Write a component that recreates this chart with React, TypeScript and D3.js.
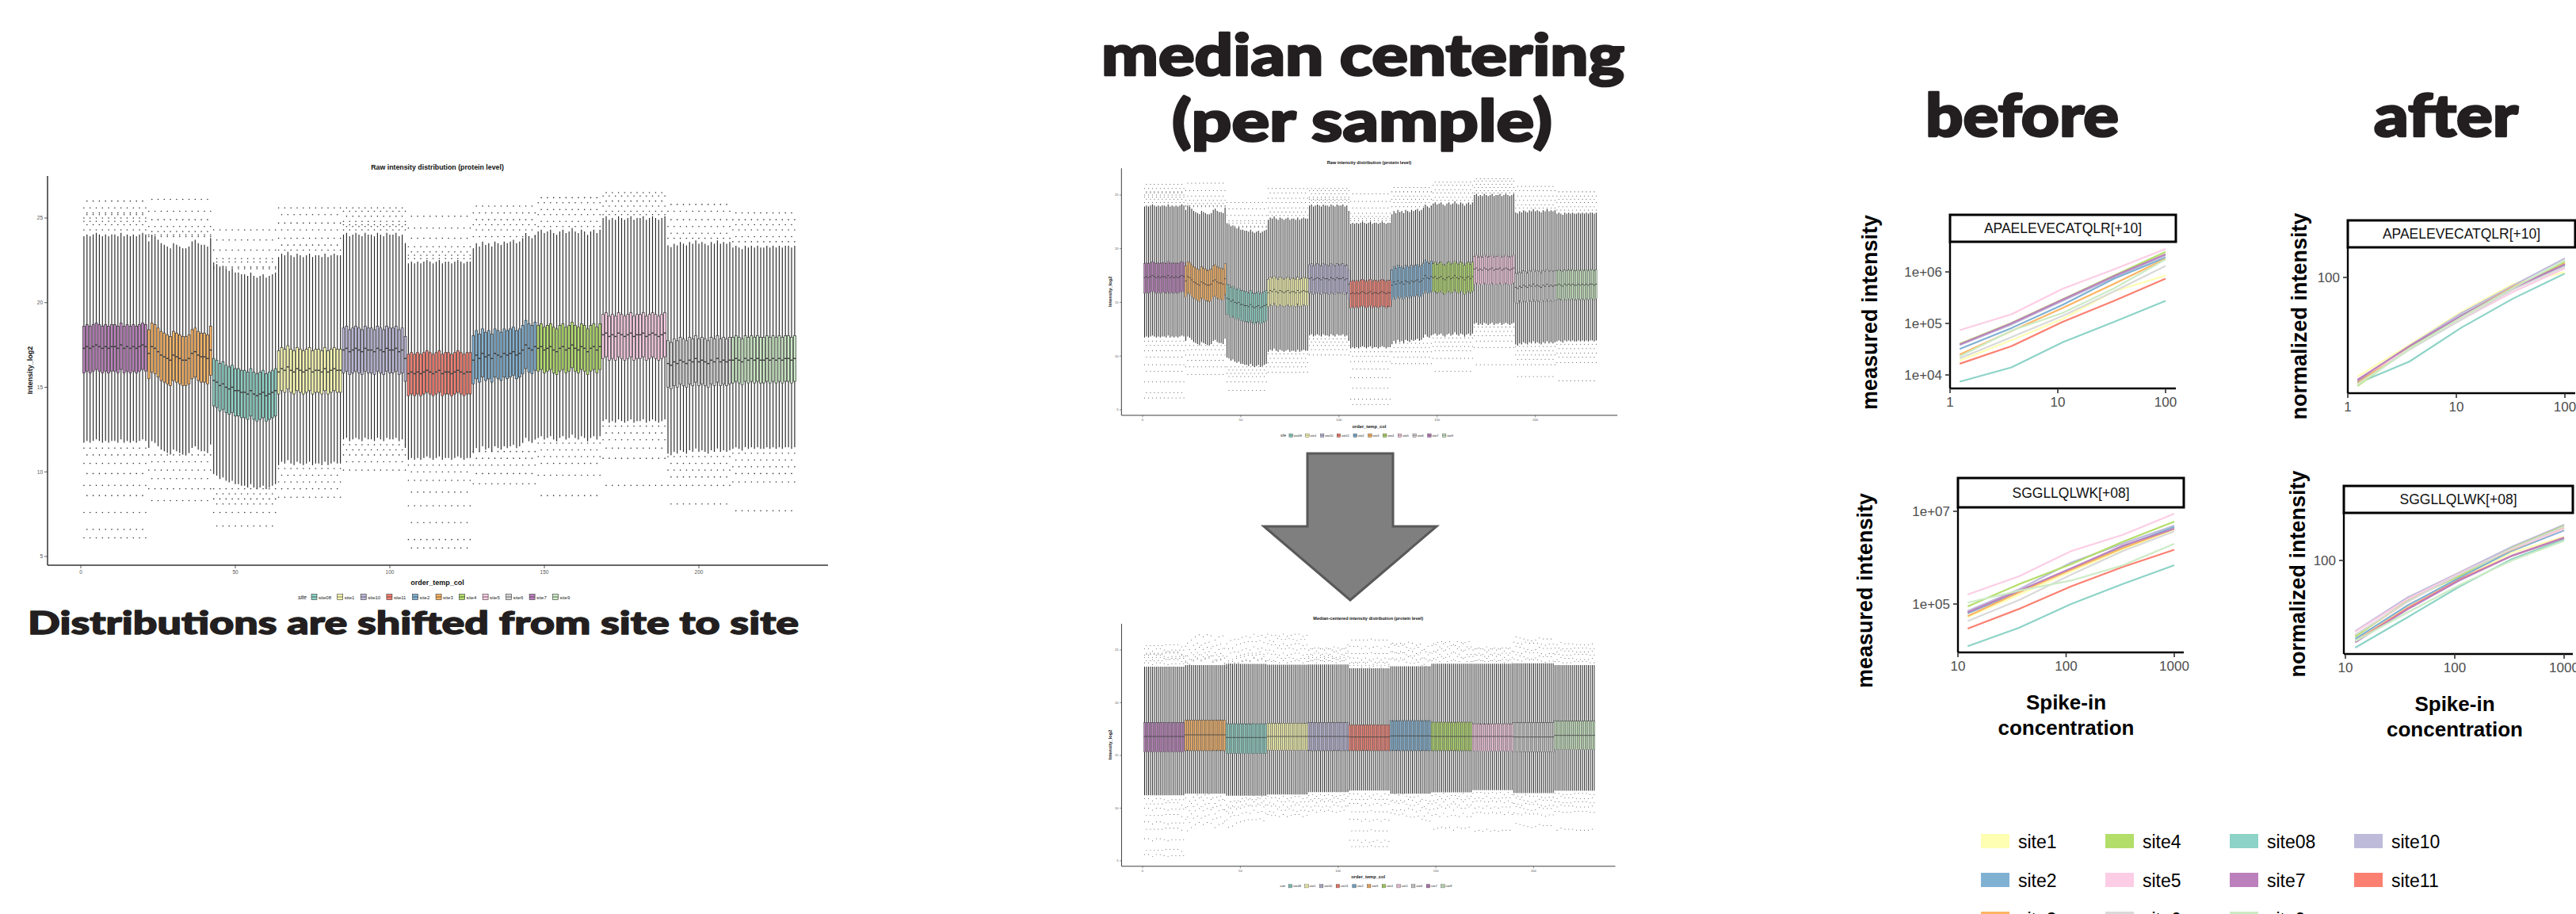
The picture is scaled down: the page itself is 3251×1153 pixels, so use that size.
import React, { useEffect } from "react";
import * as d3 from "d3";

const W = 3251;
const H = 1153;

// sites in the order they appear along order_temp_col
const BOX_SITES = ["site7", "site3", "site08", "site1", "site10", "site11", "site2", "site4", "site5", "site6", "site9"];
// ggplot legend order (alphabetical)
const LEGEND_SITES = ["site08", "site1", "site10", "site11", "site2", "site3", "site4", "site5", "site6", "site7", "site9"];
const siteColor = d3.scaleOrdinal<string, string>().domain(LEGEND_SITES).range(d3.schemeSet3);

// per-sample raw medians (log2), 21 samples per site
const medSite7 = [17.3, 17.4, 17.3, 17.4, 17.5, 17.4, 17.3, 17.4, 17.3, 17.4, 17.4, 17.3, 17.5, 17.3, 17.4, 17.3, 17.4, 17.3, 17.4, 17.5, 17.4];
const medSite3 = [17.0, 17.4, 17.3, 17.1, 16.9, 16.8, 16.7, 16.6, 16.9, 16.8, 16.7, 16.6, 16.6, 16.7, 17.0, 17.1, 16.9, 16.8, 16.8, 16.7, 17.2];
const medSite08 = [15.4, 15.3, 15.1, 15.2, 15.0, 14.9, 15.0, 14.8, 14.8, 14.7, 14.7, 14.6, 14.8, 14.6, 14.5, 14.6, 14.7, 14.5, 14.6, 14.7, 14.8];
const medSite1 = [15.9, 16.1, 16.0, 16.2, 16.0, 15.9, 16.1, 16.0, 15.9, 16.0, 16.1, 15.9, 16.0, 16.0, 15.9, 16.1, 15.9, 16.0, 16.1, 16.0, 16.0];
const medSite10 = [17.2, 17.3, 17.1, 17.2, 17.3, 17.2, 17.1, 17.3, 17.2, 17.2, 17.1, 17.3, 17.2, 17.1, 17.3, 17.2, 17.2, 17.3, 17.1, 17.2, 16.7];
const medSite11 = [15.8, 15.9, 15.8, 15.9, 15.8, 15.9, 16.0, 15.9, 15.8, 15.9, 16.0, 15.8, 15.9, 15.9, 15.8, 15.9, 16.0, 15.9, 15.8, 15.9, 15.9];
const medSite2 = [16.6, 16.9, 16.7, 17.0, 16.8, 16.9, 16.7, 17.0, 16.9, 16.8, 17.0, 16.9, 17.0, 17.1, 16.9, 17.0, 17.2, 17.5, 17.3, 17.2, 17.4];
const medSite4 = [17.3, 17.4, 17.2, 17.3, 17.4, 17.2, 17.1, 17.3, 17.4, 17.2, 17.3, 17.5, 17.3, 17.2, 17.4, 17.3, 17.1, 17.3, 17.4, 17.2, 17.4];
const medSite5 = [18.1, 18.2, 18.0, 18.1, 18.0, 18.2, 18.1, 18.0, 18.1, 18.2, 18.0, 18.1, 18.1, 18.2, 18.0, 18.1, 18.2, 18.1, 18.0, 18.1, 18.2];
const medSite6 = [16.4, 16.3, 16.5, 16.4, 16.6, 16.5, 16.4, 16.6, 16.5, 16.7, 16.5, 16.6, 16.5, 16.4, 16.6, 16.5, 16.7, 16.5, 16.6, 16.5, 16.6];
const medSite9 = [16.6, 16.7, 16.6, 16.5, 16.7, 16.6, 16.7, 16.6, 16.7, 16.6, 16.6, 16.7, 16.6, 16.7, 16.6, 16.7, 16.6, 16.7, 16.7, 16.6, 16.7];
const RAW_MEDIANS = [medSite7, medSite3, medSite08, medSite1, medSite10, medSite11, medSite2, medSite4, medSite5, medSite6, medSite9];

// per-site box / whisker shape (same order as BOX_SITES)
const BOX_UPPER = [1.3, 1.4, 1.3, 1.25, 1.3, 1.15, 1.45, 1.35, 1.2, 1.35, 1.35];
const BOX_LOWER = [1.45, 1.5, 1.5, 1.3, 1.35, 1.3, 1.4, 1.35, 1.4, 1.4, 1.35];
const WHISKER_HI = [24.0, 23.5, 21.8, 22.8, 24.0, 22.4, 23.6, 24.2, 25.0, 23.5, 23.3];
const WHISKER_LO = [11.8, 11.3, 9.3, 10.5, 11.9, 10.8, 11.5, 12.0, 13.0, 11.2, 11.4];
const CENTERED_MEDIANS = [16.8, 16.95, 16.7, 16.8, 16.8, 16.75, 16.85, 16.8, 16.8, 16.75, 16.9];

const OUTLIERS_HI = [
  [24.3, 24.6, 25.0, 25.2, 25.6, 26.0, 24.8, 25.3],
  [23.9, 24.2, 24.5, 24.9, 25.4, 26.1, 24.0],
  [22.1, 22.4, 22.0, 22.6, 23.1, 23.7, 24.3],
  [23.1, 23.4, 23.8, 24.3, 24.7, 25.2, 25.6],
  [24.3, 24.5, 24.8, 25.1, 25.4, 25.6, 24.6],
  [22.6, 23.0, 23.3, 23.8, 24.4, 25.1, 22.8],
  [23.9, 24.3, 24.6, 24.9, 25.3, 25.7],
  [24.5, 24.8, 25.2, 25.5, 25.9, 26.2],
  [25.2, 25.4, 25.7, 26.0, 26.3, 26.5],
  [23.8, 24.1, 24.5, 24.9, 25.4, 25.8],
  [23.6, 23.9, 24.3, 24.6, 24.9, 25.3],
];
const OUTLIERS_LO = [
  [11.4, 11.0, 10.5, 9.9, 9.2, 8.6, 7.6, 6.6, 6.1],
  [11.0, 10.6, 10.1, 9.6, 9.0, 8.3],
  [9.0, 8.7, 8.4, 8.1, 7.6, 6.8],
  [10.2, 9.8, 9.4, 9.0, 8.5],
  [11.6, 11.3, 11.0, 10.6, 10.1],
  [10.4, 10.0, 9.5, 8.8, 8.0, 7.0, 6.0, 5.5],
  [11.2, 10.8, 10.4, 9.9, 9.3],
  [11.7, 11.3, 10.9, 10.5, 9.8, 8.6],
  [12.7, 12.3, 11.9, 11.4, 10.8, 9.2],
  [10.9, 10.5, 10.1, 9.7, 9.2, 8.1],
  [11.1, 10.7, 10.3, 9.9, 9.4, 7.7],
];

const BOX_Y_TICKS = [5, 10, 15, 20, 25];
const BOX_X_TICKS = [0, 50, 100, 150, 200];

// spike-in line charts
const LINE_SITES = ["site08", "site1", "site10", "site11", "site2", "site3", "site4", "site5", "site6", "site7", "site9"];
const CONC_LOW = [1.23, 3.7, 11.1, 33.3, 100];
const CONC_HIGH = [12.3, 37, 111, 333, 1000];

const beforeApa = [
  [7.4e3, 1.4e4, 4.3e4, 1.07e5, 2.75e5],
  [1.9e4, 4.7e4, 1.23e5, 4.2e5, 8.5e5],
  [3.8e4, 9.5e4, 2.75e5, 7.9e5, 2.1e6],
  [1.65e4, 3.6e4, 1.07e5, 2.75e5, 7.4e5],
  [3.2e4, 8.1e4, 2.3e5, 7.4e5, 1.9e6],
  [2.5e4, 7.1e4, 2.0e5, 5.9e5, 1.8e6],
  [4.0e4, 1.02e5, 2.95e5, 8.5e5, 2.45e6],
  [7.4e4, 1.5e5, 4.7e5, 1.12e6, 2.8e6],
  [2.1e4, 5.4e4, 1.4e5, 4.2e5, 1.3e6],
  [3.9e4, 1.0e5, 2.9e5, 8.3e5, 2.2e6],
  [2.3e4, 7.2e4, 1.6e5, 4.8e5, 1.75e6],
];
const beforeSgg = [
  [1.23e4, 3.1e4, 1.0e5, 2.7e5, 6.9e5],
  [5.2e4, 1.6e5, 5.0e5, 1.5e6, 4.0e6],
  [7.1e4, 2.1e5, 7.8e5, 2.0e6, 4.9e6],
  [2.95e4, 7.9e4, 2.4e5, 6.3e5, 1.48e6],
  [6.3e4, 1.86e5, 5.75e5, 1.74e6, 4.6e6],
  [5.5e4, 1.8e5, 5.5e5, 1.6e6, 4.2e6],
  [8.9e4, 2.7e5, 7.2e5, 2.2e6, 6.0e6],
  [1.6e5, 4.0e5, 1.38e6, 3.1e6, 8.9e6],
  [4.3e4, 1.23e5, 4.3e5, 1.38e6, 3.7e6],
  [6.6e4, 1.95e5, 5.9e5, 1.8e6, 4.2e6],
  [1.07e5, 1.95e5, 3.2e5, 6.8e5, 2.0e6],
];
const afterApa = [
  [21.5, 29.5, 48.2, 73.6, 106],
  [23.7, 37.6, 60.7, 90.9, 108],
  [22.3, 37.0, 59.5, 89, 132],
  [22.0, 36.0, 56, 86, 122],
  [21.8, 35.8, 57.5, 86.5, 119],
  [21.5, 36.2, 57, 87, 123],
  [20.7, 35.8, 56.5, 86, 126],
  [22.8, 35.5, 54.1, 81, 114],
  [21.2, 35.0, 54.1, 84, 117],
  [22.6, 36.9, 57.3, 85.8, 121],
  [21.0, 35.5, 56, 86, 128],
];
const afterSgg = [
  [28.2, 43.8, 68.6, 102, 136],
  [31.5, 51, 76, 112, 141],
  [35.8, 58.4, 84.1, 122, 168],
  [30.8, 50, 76, 107, 139],
  [32.0, 52, 78, 115, 155],
  [33.5, 55, 83, 117, 160],
  [33.1, 56, 80, 120, 165],
  [35.5, 57, 83, 118, 158],
  [34.0, 55, 82, 119, 163],
  [30.4, 49.2, 75, 107, 139],
  [31.0, 47, 70, 100, 133],
];

const LEGEND_COLUMNS = [
  ["site1", "site2", "site3"],
  ["site4", "site5", "site6"],
  ["site08", "site7", "site9"],
  ["site10", "site11"],
];

const sciLabel = (v: number) => `1e+${String(Math.round(Math.log10(v))).padStart(2, "0")}`;

function BoxPanel({ tx, ty, sx, sy, title, centered, whiskerWidth }: any) {
  const x = d3.scaleLinear().domain([0, 200]).range([102, 882]);
  const y = d3.scaleLinear().domain([5, 25]).range([702, 275]);
  const bw = (x(1) - x(0)) * 0.75;
  const marks: any[] = [];
  let s = 0;
  BOX_SITES.forEach((site, si) => {
    const siteMean = d3.mean(RAW_MEDIANS[si]) as number;
    RAW_MEDIANS[si].forEach((m, k) => {
      s += 1;
      const shift = centered ? CENTERED_MEDIANS[si] - m : 0;
      const wShift = shift + (m - siteMean);
      const med = m + shift;
      const q3 = med + BOX_UPPER[si];
      const q1 = med - BOX_LOWER[si];
      const cx = x(s);
      const hi = OUTLIERS_HI[si].filter((_, j) => (k + j) % 2 === 0);
      const lo = OUTLIERS_LO[si].filter((_, j) => (k + j) % 2 === 0);
      marks.push(
        <g key={s}>
          <line x1={cx} x2={cx} y1={y(q3)} y2={y(WHISKER_HI[si] + wShift)} stroke="#262626" strokeWidth={whiskerWidth} />
          <line x1={cx} x2={cx} y1={y(q1)} y2={y(WHISKER_LO[si] + wShift)} stroke="#262626" strokeWidth={whiskerWidth} />
          {hi.map((v, j) => (
            <circle key={"h" + j} cx={cx} cy={y(v + shift)} r={0.8} fill="#333" />
          ))}
          {lo.map((v, j) => (
            <circle key={"l" + j} cx={cx} cy={y(v + shift)} r={0.8} fill="#333" />
          ))}
          <rect x={cx - bw / 2} y={y(q3)} width={bw} height={y(q1) - y(q3)} fill={siteColor(site)} stroke="#333" strokeWidth={0.7} />
          <line x1={cx - bw / 2} x2={cx + bw / 2} y1={y(med)} y2={y(med)} stroke="#333" strokeWidth={1.4} />
        </g>
      );
    });
  });

  // legend item positions
  let lx = 393;
  const legendItems = LEGEND_SITES.map((site) => {
    const item = { site, x: lx };
    lx += 7 + 3 + site.length * 3.2 + 3.5;
    return item;
  });

  return (
    <g transform={`translate(${tx},${ty}) scale(${sx},${sy})`} fontFamily="'Liberation Sans', Arial, sans-serif">
      <text x={552} y={214} textAnchor="middle" fontSize={8.8} fontWeight="bold" fill="#111">
        {title}
      </text>
      {marks}
      <line x1={60} x2={60} y1={222} y2={713} stroke="#333" strokeWidth={1.5} />
      <line x1={60} x2={1045} y1={713} y2={713} stroke="#333" strokeWidth={1.5} />
      {BOX_Y_TICKS.map((t) => (
        <g key={t}>
          <line x1={56} x2={60} y1={y(t)} y2={y(t)} stroke="#333" strokeWidth={0.8} />
          <text x={54} y={y(t) + 2.3} textAnchor="end" fontSize={6.5} fill="#555">
            {t}
          </text>
        </g>
      ))}
      {BOX_X_TICKS.map((t) => (
        <g key={t}>
          <line x1={x(t)} x2={x(t)} y1={713} y2={717} stroke="#333" strokeWidth={0.8} />
          <text x={x(t)} y={724} textAnchor="middle" fontSize={6.5} fill="#555">
            {t}
          </text>
        </g>
      ))}
      <text x={552} y={738} textAnchor="middle" fontSize={9} fontWeight="bold" fill="#111">
        order_temp_col
      </text>
      <text transform={`translate(41,467) rotate(-90)`} textAnchor="middle" fontSize={9} fontWeight="bold" fill="#111">
        Intensity_log2
      </text>
      <text x={376} y={755.5} fontSize={7} fontStyle="italic" fill="#111">
        site
      </text>
      {legendItems.map((it) => (
        <g key={it.site}>
          <rect x={it.x} y={749.5} width={7} height={7} fill={siteColor(it.site)} stroke="#333" strokeWidth={0.6} />
          <line x1={it.x} x2={it.x + 7} y1={753} y2={753} stroke="#333" strokeWidth={0.7} />
          <text x={it.x + 9} y={755.5} fontSize={6} fill="#222">
            {it.site}
          </text>
        </g>
      ))}
    </g>
  );
}

function LinePanel({ p }: any) {
  const x = d3.scaleLog().domain(p.xDomain).range(p.xRange);
  const y = d3.scaleLog().domain(p.yDomain).range(p.yRange);
  const line = d3
    .line<number>()
    .x((_, i) => x(p.conc[i]))
    .y((d) => y(d));
  return (
    <g fontFamily="'Liberation Sans', Arial, sans-serif">
      {LINE_SITES.map((site, i) => (
        <path key={site} d={line(p.series[i]) || ""} fill="none" stroke={siteColor(site)} strokeWidth={2.2} />
      ))}
      <rect x={p.left} y={p.stripTop} width={p.right - p.left} height={p.top - p.stripTop} fill="#fff" stroke="#000" strokeWidth={3} />
      <text x={(p.left + p.right) / 2} y={(p.stripTop + p.top) / 2 + 6} textAnchor="middle" fontSize={17.5} fill="#111">
        {p.strip}
      </text>
      <line x1={p.left} x2={p.left} y1={p.top} y2={p.bottom} stroke="#000" strokeWidth={2.4} />
      <line x1={p.left} x2={p.right} y1={p.bottom} y2={p.bottom} stroke="#000" strokeWidth={2.4} />
      {p.yTicks.map((t: number) => (
        <g key={t}>
          <line x1={p.left - 6} x2={p.left} y1={y(t)} y2={y(t)} stroke="#333" strokeWidth={1.6} />
          <text x={p.left - 10} y={y(t) + 6} textAnchor="end" fontSize={17} fill="#4d4d4d">
            {p.yFormat(t)}
          </text>
        </g>
      ))}
      {p.xTicks.map((t: number) => (
        <g key={t}>
          <line x1={x(t)} x2={x(t)} y1={p.bottom} y2={p.bottom + 6} stroke="#333" strokeWidth={1.6} />
          <text x={x(t)} y={p.bottom + 23} textAnchor="middle" fontSize={17} fill="#4d4d4d">
            {String(t)}
          </text>
        </g>
      ))}
      <text
        transform={`translate(${p.yTitleX},${p.yTitleY}) rotate(-90)`}
        textAnchor="middle"
        fontSize={27}
        fontWeight="bold"
        fill="#000"
      >
        {p.yTitle}
      </text>
      {p.xTitle && (
        <text textAnchor="middle" fontSize={26} fontWeight="bold" fill="#000">
          <tspan x={(x(p.xTicks[0]) + x(p.xTicks[2])) / 2} y={p.bottom + 72}>
            Spike-in
          </tspan>
          <tspan x={(x(p.xTicks[0]) + x(p.xTicks[2])) / 2} y={p.bottom + 104}>
            concentration
          </tspan>
        </text>
      )}
    </g>
  );
}

const PANELS = [
  {
    strip: "APAELEVECATQLR[+10]",
    left: 2461, right: 2746, top: 305, bottom: 490, stripTop: 271,
    xDomain: [1, 100], xRange: [2461, 2733], yDomain: [1e4, 1e6], yRange: [473, 343],
    xTicks: [1, 10, 100], yTicks: [1e4, 1e5, 1e6], yFormat: sciLabel,
    conc: CONC_LOW, series: beforeApa, yTitle: "measured intensity", yTitleX: 2369, yTitleY: 394, xTitle: false,
  },
  {
    strip: "SGGLLQLWK[+08]",
    left: 2471, right: 2756, top: 640, bottom: 823, stripTop: 603,
    xDomain: [10, 1000], xRange: [2471, 2744], yDomain: [1e5, 1e7], yRange: [762, 645],
    xTicks: [10, 100, 1000], yTicks: [1e5, 1e7], yFormat: sciLabel,
    conc: CONC_HIGH, series: beforeSgg, yTitle: "measured intensity", yTitleX: 2363, yTitleY: 745, xTitle: true,
  },
  {
    strip: "APAELEVECATQLR[+10]",
    left: 2963, right: 3250, top: 312, bottom: 496, stripTop: 278,
    xDomain: [1, 100], xRange: [2963, 3237], yDomain: [10, 100], yRange: [550, 350],
    xTicks: [1, 10, 100], yTicks: [100], yFormat: (v: number) => String(v),
    conc: CONC_LOW, series: afterApa, yTitle: "normalized intensity", yTitleX: 2911, yTitleY: 399, xTitle: false,
  },
  {
    strip: "SGGLLQLWK[+08]",
    left: 2958, right: 3247, top: 647, bottom: 825, stripTop: 613,
    xDomain: [10, 1000], xRange: [2960, 3236], yDomain: [10, 100], yRange: [907, 707],
    xTicks: [10, 100, 1000], yTicks: [100], yFormat: (v: number) => String(v),
    conc: CONC_HIGH, series: afterSgg, yTitle: "normalized intensity", yTitleX: 2909, yTitleY: 724, xTitle: true,
  },
];

export default function App() {
  useEffect(() => {
    document.body.style.margin = "0";
  }, []);

  const bigFont = "Lato, 'Open Sans', sans-serif";
  const ink = "#231f20";

  return (
    <svg width={W} height={H} viewBox={`0 0 ${W} ${H}`} style={{ position: "absolute", left: 0, top: 0, background: "#fff" }}>
      <rect width={W} height={H} fill="#fff" />

      {/* headings */}
      <g fontFamily={bigFont} fontWeight={900} fill={ink} stroke={ink} strokeLinejoin="round">
        <text x={1390} y={95} fontSize={72} strokeWidth={2.6} textLength={660} lengthAdjust="spacingAndGlyphs">
          median centering
        </text>
        <text x={1479} y={178} fontSize={72} strokeWidth={2.6} textLength={480} lengthAdjust="spacingAndGlyphs">
          (per sample)
        </text>
        <text x={2430} y={172} fontSize={74} strokeWidth={2.6} textLength={244} lengthAdjust="spacingAndGlyphs">
          before
        </text>
        <text x={2996} y={172} fontSize={74} strokeWidth={2.6} textLength={182} lengthAdjust="spacingAndGlyphs">
          after
        </text>
        <text x={35} y={800} fontSize={40} strokeWidth={1.4} textLength={973} lengthAdjust="spacingAndGlyphs">
          Distributions are shifted from site to site
        </text>
      </g>

      {/* raw intensity boxplots, full size and small copy */}
      <BoxPanel tx={0} ty={0} sx={1} sy={1} whiskerWidth={1.15} title="Raw intensity distribution (protein level)" centered={false} />
      <BoxPanel tx={1377.2} ty={71.4} sx={0.6354} sy={0.6347} whiskerWidth={1.6} title="Raw intensity distribution (protein level)" centered={false} />

      {/* arrow */}
      <polygon
        points="1650,572 1758,572 1758,664 1813,664 1704,757 1595,664 1650,664"
        fill="#7f7f7f"
        stroke="#595959"
        strokeWidth={3}
      />

      <BoxPanel tx={1377.5} ty={648.6} sx={0.6326} sy={0.623} whiskerWidth={1.6} title="Median-centered intensity distribution (protein level)" centered={true} />

      {PANELS.map((p, i) => (
        <LinePanel key={i} p={p} />
      ))}

      {/* site legend for the spike-in panels */}
      <g fontFamily="'Liberation Sans', Arial, sans-serif">
        {LEGEND_COLUMNS.map((col, ci) =>
          col.map((site, ri) => (
            <g key={site}>
              <rect x={2500 + ci * 157} y={1052 + ri * 49} width={36} height={18} fill={siteColor(site)} />
              <text x={2547 + ci * 157} y={1070 + ri * 49} fontSize={23} fill="#000">
                {site}
              </text>
            </g>
          ))
        )}
      </g>
    </svg>
  );
}
